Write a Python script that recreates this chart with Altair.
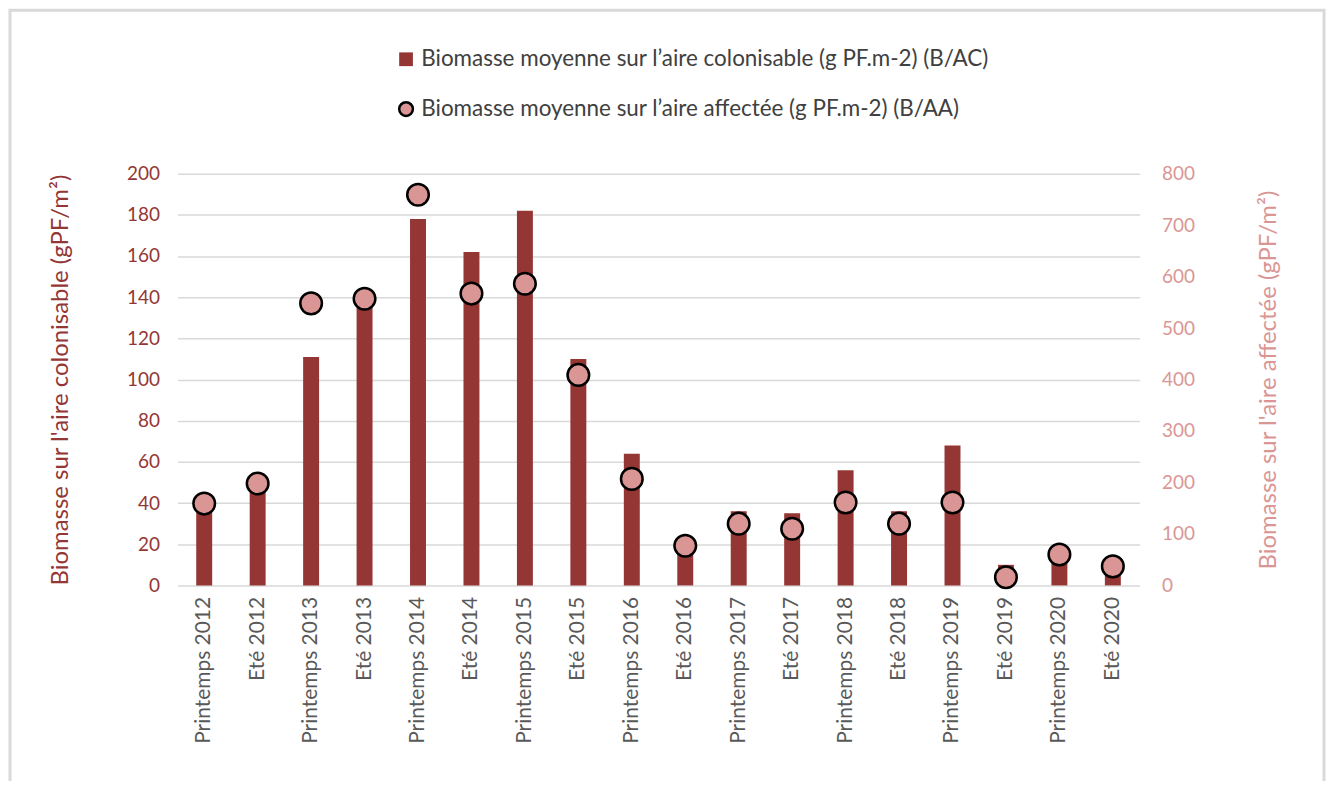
import altair as alt
import pandas as pd

categories = ["Printemps 2012", "Eté 2012", "Printemps 2013", "Eté 2013", "Printemps 2014", "Eté 2014",
              "Printemps 2015", "Eté 2015", "Printemps 2016", "Eté 2016", "Printemps 2017", "Eté 2017",
              "Printemps 2018", "Eté 2018", "Printemps 2019", "Eté 2019", "Printemps 2020", "Eté 2020"]
b_ac = [38, 48, 111, 139, 178, 162, 182, 110, 64, 18, 36, 35, 56, 36, 68, 10, 12, 5]
b_aa = [159, 198, 548, 557, 759, 567, 586, 409, 207, 77, 120, 110, 161, 120, 161, 16, 60, 37]
left_ticks = list(range(0, 201, 20))
right_ticks = list(range(0, 801, 100))

LAB_AC = "Biomasse moyenne sur l\u2019aire colonisable (g PF.m-2) (B/AC)"
LAB_AA = "Biomasse moyenne sur l\u2019aire affectée (g PF.m-2) (B/AA)"

df = pd.DataFrame({"cat": categories, "bac": b_ac, "baa": b_aa,
                   "s1": [LAB_AC] * len(categories), "s2": [LAB_AA] * len(categories)})

DARK = "#943634"
PINK = "#DA9694"
FONT = "Lato"

x = alt.X("cat:N", sort=categories, title=None,
          scale=alt.Scale(paddingInner=0.7, paddingOuter=0.35),
          axis=alt.Axis(labelAngle=-90, labelFontSize=21, labelColor="#595959", labelFont=FONT,
                        ticks=False, domain=False, labelPadding=11, grid=False, labelLimit=300))

base = alt.Chart(df)

bars = base.mark_bar(width=16).encode(
    x=x,
    y=alt.Y("bac:Q", scale=alt.Scale(domain=[0, 200]),
            axis=alt.Axis(title="Biomasse sur l'aire colonisable (gPF/m\u00b2)", titleColor=DARK,
                          titleFontSize=24, titleFont=FONT, titleFontWeight="normal",
                          labelColor=DARK, labelFontSize=19, labelFont=FONT, values=left_ticks,
                          labelOverlap=False, ticks=False, domain=False, labelPadding=18, titlePadding=54,
                          grid=True, gridColor="#d9d9d9", gridWidth=1.5)),
    color=alt.Color("s1:N", scale=alt.Scale(domain=[LAB_AC], range=[DARK]),
                    legend=alt.Legend(title=None, orient="none", legendX=218, legendY=-126,
                                      symbolType="square", symbolSize=190, labelFontSize=22.5,
                                      labelFont=FONT, labelColor="#404040", labelLimit=800)),
)

points = base.mark_point(filled=True, size=470, stroke="black", strokeWidth=2.5, opacity=1).encode(
    x=x,
    y=alt.Y("baa:Q", scale=alt.Scale(domain=[0, 800]),
            axis=alt.Axis(title="Biomasse sur l'aire affectée (gPF/m\u00b2)", titleColor=PINK,
                          titleFontSize=24, titleFont=FONT, titleFontWeight="normal", orient="right",
                          titleAngle=270, titleBaseline="bottom",
                          labelColor=PINK, labelFontSize=19, labelFont=FONT, values=right_ticks,
                          labelOverlap=False, ticks=False, domain=False, labelPadding=22, titlePadding=86,
                          grid=False)),
    fill=alt.Fill("s2:N", scale=alt.Scale(domain=[LAB_AA], range=[PINK]),
                  legend=alt.Legend(title=None, orient="none", legendX=218, legendY=-76,
                                    symbolType="circle", symbolSize=190, symbolStrokeColor="black",
                                    symbolStrokeWidth=2.5, labelFontSize=22.5, labelFont=FONT,
                                    labelColor="#404040", labelLimit=800)),
)

frame = alt.Chart(pd.DataFrame({"a": [0]})).mark_rect(fill=None, stroke="#d9d9d9", strokeWidth=3).encode(
    x=alt.value(-168), x2=alt.value(1150), y=alt.value(-164), y2=alt.value(640))

chart = alt.layer(frame, bars, points).resolve_scale(y="independent", color="independent").properties(
    width=965, height=413, autosize=alt.AutoSizeParams(type="none"),
    padding={"left": 170, "top": 165, "right": 190, "bottom": 195}
).configure_view(stroke=None)

chart.save("out.html", embed_options={"renderer": "svg", "actions": False})
